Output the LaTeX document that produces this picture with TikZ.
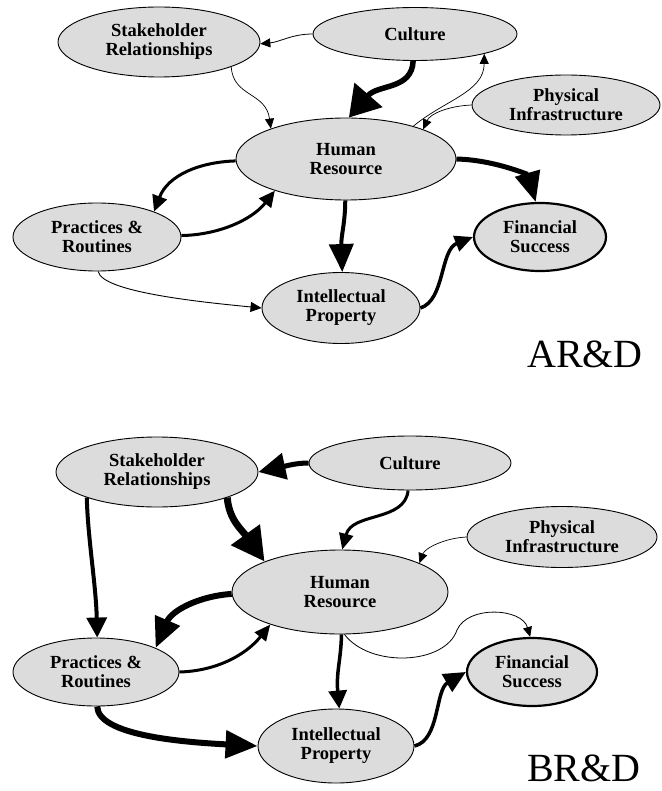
\documentclass[tikz,border=0pt]{standalone}
\usepackage{fontspec}
\setmainfont{Liberation Serif}
\usetikzlibrary{arrows.meta,shapes.geometric,backgrounds}
\definecolor{nodefill}{RGB}{220,220,220}
\begin{document}
\begin{tikzpicture}[x=1pt,y=-1pt,
  oval/.style={ellipse,draw=black,line width=0.9pt,fill=nodefill,inner sep=0pt,align=center,
    font=\fontsize{18.5}{19}\selectfont\bfseries},
  sz/.style 2 args={minimum width=#1,minimum height=#2},
  arr/.style n args={3}{line width=#1,-{Triangle[length=#2,width=#3]}},
  lbl/.style={anchor=base west,inner sep=0pt,font=\fontsize{40}{40}\selectfont}]
\useasboundingbox (0,0) rectangle (661,791);
% ---------- top diagram ----------
\node[oval,sz={202pt}{70pt}] (sr1) at (159,42) {Stakeholder\\Relationships};
\node[oval,sz={204pt}{53pt}] (cu1) at (415,34) {Culture};
\node[oval,sz={188pt}{60pt}] (pi1) at (566,105) {Physical\\Infrastructure};
\node[oval,sz={220pt}{82pt}] (hr1) at (346,159) {Human\\Resource};
\node[oval,sz={168pt}{68pt}] (pr1) at (97,237) {Practices \&\\Routines};
\node[oval,sz={132pt}{68pt},line width=2.2pt] (fs1) at (540,237) {Financial\\Success};
\node[oval,sz={158pt}{71pt}] (ip1) at (341,308) {Intellectual\\Property};
\node[lbl] (ard) at (527,367) {AR\&D};
\begin{scope}[on background layer]
\draw[arr={0.8pt}{10pt}{9pt}] (cu1.180) .. controls (292,34) and (280,42) .. (sr1.-1);
\draw[arr={0.7pt}{10pt}{9pt}] (sr1.-19) .. controls (233,97) and (266,92) .. (hr1.158);
\draw[arr={5.5pt}{30pt}{36pt}] (cu1.-94) .. controls (412,90) and (378,84) .. (hr1.86);
\draw[arr={0.7pt}{10pt}{9pt}] (pi1.180) .. controls (448,106) and (430,114) .. (hr1.21);
\draw[arr={0.7pt}{10pt}{9pt}] (hr1.26) .. controls (445,100) and (484,92) .. (cu1.-16);
\draw[arr={3pt}{16pt}{15pt}] (hr1.181) .. controls (200,162) and (168,175) .. (pr1.24);
\draw[arr={3pt}{16pt}{15pt}] (pr1.1) .. controls (218,235) and (252,220) .. (hr1.204);
\draw[arr={0.9pt}{11pt}{10pt}] (pr1.-88) .. controls (102,292) and (200,302) .. (ip1.180);
\draw[arr={4pt}{28pt}{24pt}] (hr1.-91) .. controls (345,225) and (341,235) .. (ip1.88);
\draw[arr={3.5pt}{18pt}{16pt}] (ip1.0) .. controls (445,300) and (440,250) .. (fs1.180);
\draw[arr={5pt}{30pt}{25pt}] (hr1.0) .. controls (495,160) and (528,175) .. (fs1.97);
\end{scope}
% ---------- bottom diagram ----------
\node[oval,sz={202pt}{70pt}] (sr2) at (157,472) {Stakeholder\\Relationships};
\node[oval,sz={202pt}{54pt}] (cu2) at (410,463) {Culture};
\node[oval,sz={190pt}{61pt}] (pi2) at (562,537) {Physical\\Infrastructure};
\node[oval,sz={216pt}{84pt}] (hr2) at (340,592) {Human\\Resource};
\node[oval,sz={166pt}{68pt}] (pr2) at (96,672) {Practices \&\\Routines};
\node[oval,sz={130pt}{68pt},line width=2.2pt] (fs2) at (532,672) {Financial\\Success};
\node[oval,sz={156pt}{74pt}] (ip2) at (336,746) {Intellectual\\Property};
\node[lbl] (brd) at (527,781) {BR\&D};
\begin{scope}[on background layer]
\draw[arr={5pt}{27pt}{26pt}] (cu2.180) .. controls (296,463) and (286,466) .. (sr2.0);
\draw[arr={7pt}{33pt}{34pt}] (sr2.-20) .. controls (229,520) and (242,530) .. (hr2.158);
\draw[arr={4pt}{20pt}{20pt}] (sr2.200) .. controls (88,540) and (96,585) .. (pr2.88);
\draw[arr={3pt}{16pt}{14pt}] (cu2.-94) .. controls (405,522) and (352,512) .. (hr2.87);
\draw[arr={0.7pt}{10pt}{9pt}] (pi2.180) .. controls (445,538) and (425,548) .. (hr2.20);
\draw[arr={6pt}{30pt}{26pt}] (hr2.181) .. controls (200,596) and (172,610) .. (pr2.22);
\draw[arr={3pt}{16pt}{14pt}] (pr2.0) .. controls (215,671) and (245,656) .. (hr2.205);
\draw[arr={6pt}{32pt}{27pt}] (pr2.-88) .. controls (98,735) and (180,742) .. (ip2.180);
\draw[arr={3.5pt}{18pt}{18pt}] (hr2.-88) .. controls (341,660) and (336,672) .. (ip2.85);
\draw[arr={0.8pt}{10pt}{9pt}] (hr2.-84) .. controls (370,668) and (445,665) .. (457,630)
   .. controls (468,605) and (522,608) .. (fs2.93);
\draw[arr={3.5pt}{22pt}{20pt}] (ip2.0) .. controls (440,740) and (435,690) .. (fs2.180);
\end{scope}
\end{tikzpicture}
\end{document}
